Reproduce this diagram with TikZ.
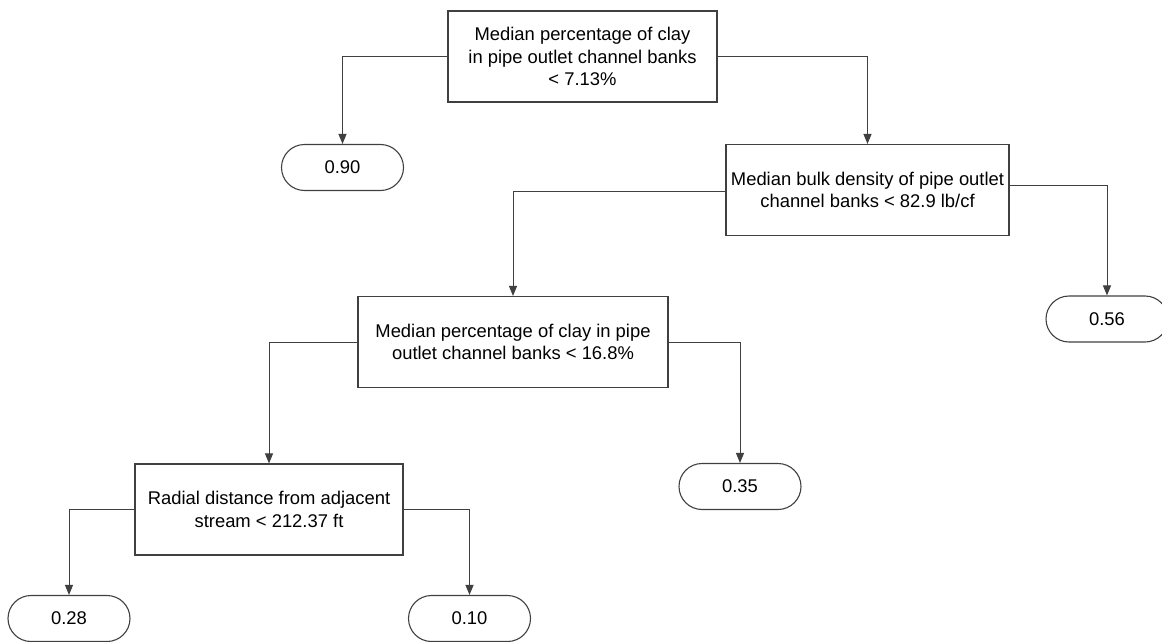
\documentclass[tikz,border=0pt]{standalone}
\usepackage{fontspec}
\setmainfont{Liberation Sans}
\usetikzlibrary{arrows.meta}
\begin{document}
\begin{tikzpicture}[x=1pt,y=-1pt,
    split/.style={draw=black!75,line width=1.1pt,align=center,inner sep=0pt,minimum height=91pt,font=\fontsize{18.4}{22.5}\selectfont},
    leaf/.style={draw=black!75,line width=1.1pt,rounded corners=23pt,minimum width=122pt,minimum height=46pt,inner sep=0pt,font=\fontsize{18.4}{22}\selectfont},
    edge/.style={draw=black!75,line width=1pt,-{Triangle[length=10pt,width=8pt]}}]
        \useasboundingbox (0,0) rectangle (1162,642);
        \node[split,minimum width=269pt] (cl1) at (582.5,56.5) {Median percentage of clay\\in pipe outlet channel banks\\< 7.13\%};
        \node[leaf] (v90) at (342.5,167.5) {0.90};
        \node[split,minimum width=283pt] (bd) at (867.5,190) {Median bulk density of pipe outlet\\channel banks < 82.9 lb/cf};
        \node[leaf] (v56) at (1107,319) {0.56};
        \node[split,minimum width=310pt] (cl2) at (513,342) {Median percentage of clay in pipe\\outlet channel banks < 16.8\%};
        \node[leaf] (v35) at (740,486.5) {0.35};
        \node[split,minimum width=268pt] (rd) at (269,509.5) {Radial distance from adjacent\\stream < 212.37 ft};
        \node[leaf] (v28) at (69,618.5) {0.28};
        \node[leaf] (v10) at (469.5,618.5) {0.10};
        \draw[edge] (cl1.west) -| (v90.north);
        \draw[edge] (cl1.east) -| (bd.north);
        \draw[edge] ([yshift=-1pt]bd.west) -| (cl2.north);
        \draw[edge] ([yshift=5pt]bd.east) -| (v56.north);
        \draw[edge] (cl2.west) -| (rd.north);
        \draw[edge] (cl2.east) -| (v35.north);
        \draw[edge] (rd.west) -| (v28.north);
        \draw[edge] (rd.east) -| (v10.north);
    \end{tikzpicture}
\end{document}
